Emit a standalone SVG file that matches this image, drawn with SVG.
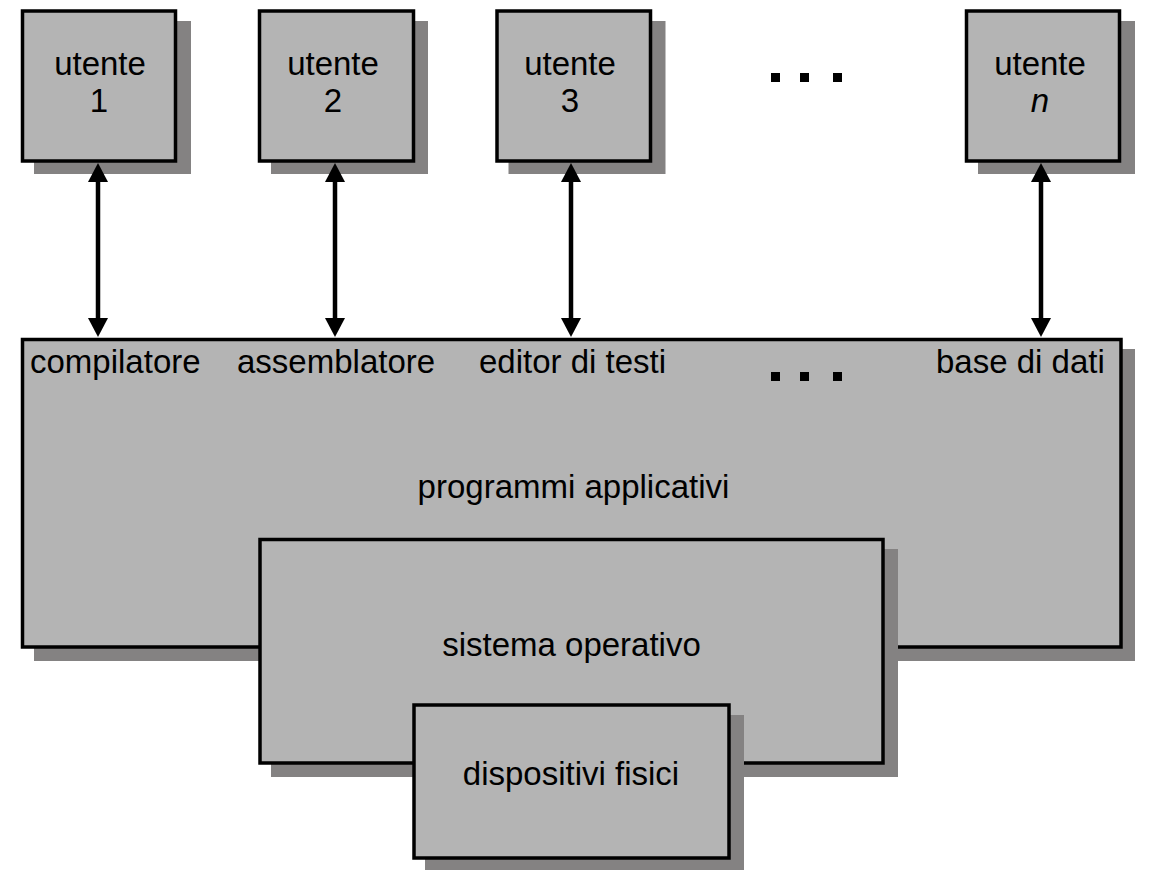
<svg xmlns="http://www.w3.org/2000/svg" width="1153" height="878" viewBox="0 0 1153 878">
<style>
.box{fill:#b4b4b4;stroke:#000;stroke-width:3.5}
.sh{fill:#848282}
.t{font-family:"Liberation Sans",Arial,sans-serif;font-size:33px;fill:#000}
.c{text-anchor:middle}
.ln{stroke:#000;stroke-width:4.5;fill:none}
.dot{fill:#000}
</style>
<defs>
<marker id="ah" markerUnits="userSpaceOnUse" markerWidth="20" markerHeight="20" refX="1" refY="10" orient="auto-start-reverse" viewBox="0 0 20 20">
<path d="M0,0 L19,10 L0,20 z" fill="#000"/>
</marker>
</defs>
<rect width="1153" height="878" fill="#fff"/>
<g id="utente1">
<rect class="sh" x="34" y="21" width="157" height="153"/>
<rect class="box" x="22.5" y="11" width="153" height="150"/>
<text class="t c" x="100" y="75">utente</text>
<text class="t c" x="99" y="112">1</text>
</g>
<g id="utente2">
<rect class="sh" x="271" y="21" width="157" height="153"/>
<rect class="box" x="259.5" y="11" width="154" height="150"/>
<text class="t c" x="333" y="75">utente</text>
<text class="t c" x="333" y="112">2</text>
</g>
<g id="utente3">
<rect class="sh" x="508.5" y="21" width="157" height="153"/>
<rect class="box" x="497" y="11" width="153.5" height="150"/>
<text class="t c" x="570" y="75">utente</text>
<text class="t c" x="570" y="112">3</text>
</g>
<g id="dots-top">
<rect class="dot" x="771" y="73" width="9" height="9"/>
<rect class="dot" x="800" y="73" width="9" height="9"/>
<rect class="dot" x="833" y="73" width="9" height="9"/>
</g>
<g id="utenten">
<rect class="sh" x="978" y="21" width="157" height="153"/>
<rect class="box" x="966.5" y="11" width="153" height="150"/>
<text class="t c" x="1040" y="75">utente</text>
<text class="t c" x="1040" y="112" font-style="italic">n</text>
</g>
<g id="programmi">
<rect class="sh" x="34" y="349" width="1101" height="312"/>
<rect class="box" x="22.5" y="339.5" width="1098.5" height="307.5"/>
<text class="t" x="30" y="373">compilatore</text>
<text class="t" x="237" y="373">assemblatore</text>
<text class="t" x="479" y="373">editor di testi</text>
<text class="t" x="936" y="373">base di dati</text>
<rect class="dot" x="771" y="372" width="9" height="9"/>
<rect class="dot" x="800" y="372" width="9" height="9"/>
<rect class="dot" x="833" y="372" width="9" height="9"/>
<text class="t c" x="573.5" y="498">programmi applicativi</text>
</g>
<g id="sistema">
<rect class="sh" x="271" y="549" width="627" height="228"/>
<rect class="box" x="260" y="539.5" width="623" height="223.5"/>
<text class="t c" x="571.5" y="656">sistema operativo</text>
</g>
<g id="dispositivi">
<rect class="sh" x="425" y="715" width="319" height="155"/>
<rect class="box" x="414" y="705" width="315" height="153"/>
<text class="t c" x="571" y="785">dispositivi fisici</text>
</g>
<g id="connectors">
<line class="ln" x1="98" y1="181" x2="98" y2="319" marker-start="url(#ah)" marker-end="url(#ah)"/>
<line class="ln" x1="335" y1="181" x2="335" y2="319" marker-start="url(#ah)" marker-end="url(#ah)"/>
<line class="ln" x1="571" y1="181" x2="571" y2="319" marker-start="url(#ah)" marker-end="url(#ah)"/>
<line class="ln" x1="1041" y1="181" x2="1041" y2="319" marker-start="url(#ah)" marker-end="url(#ah)"/>
</g>
</svg>
